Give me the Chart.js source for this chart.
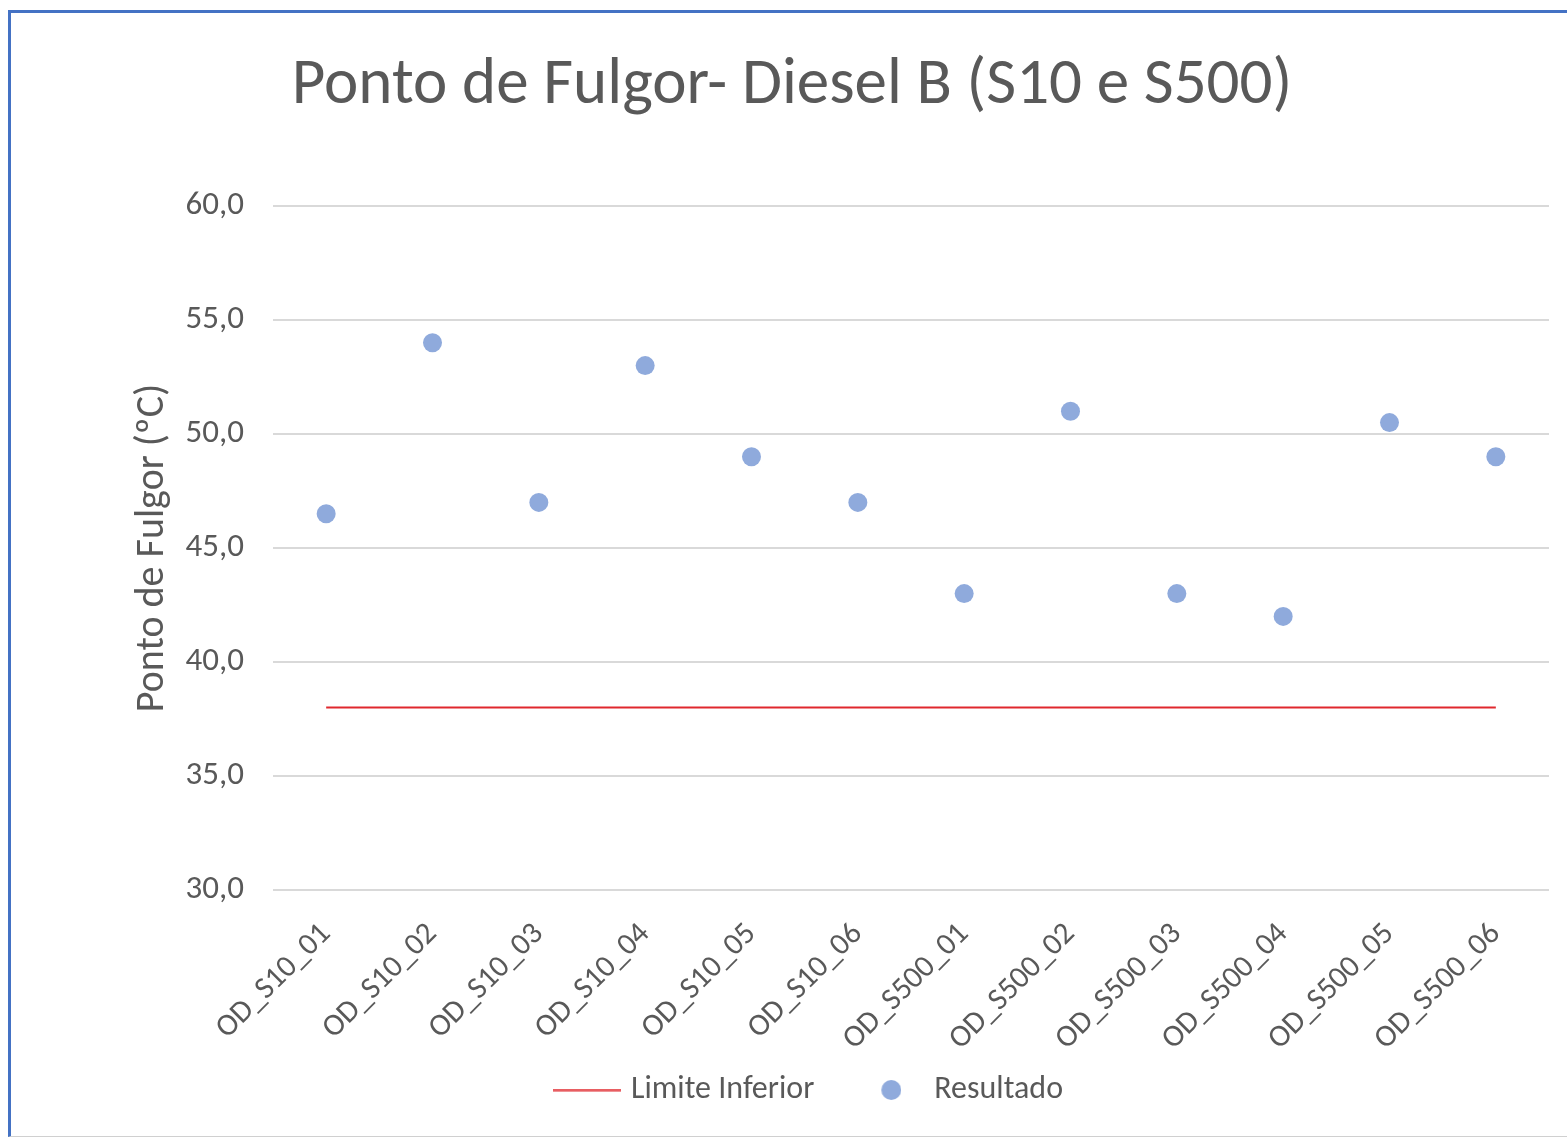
<!DOCTYPE html>
<html><head><meta charset="utf-8">
<script src="https://cdn.jsdelivr.net/npm/chart.js@4"></script>
<style>
html,body{margin:0;padding:0;background:#fff;overflow:hidden}
#wrap{position:absolute;left:8px;top:10px;width:1570px;height:1127px;border-top:3px solid #4472c4;border-left:3px solid #4472c4;border-bottom:1px solid #d0d0d0;box-sizing:border-box;background:#fff}
#c{position:absolute;left:0;top:0}
</style></head><body>
<div id="wrap"><canvas id="c" width="1556" height="1123"></canvas></div>
<script>
const categories = ["OD_S10_01","OD_S10_02","OD_S10_03","OD_S10_04","OD_S10_05","OD_S10_06","OD_S500_01","OD_S500_02","OD_S500_03","OD_S500_04","OD_S500_05","OD_S500_06"];
const resultado = [46.5, 54, 47, 53, 49, 47, 43, 51, 43, 42, 50.5, 49];
const limiteInferior = [38, 38, 38, 38, 38, 38, 38, 38, 38, 38, 38, 38];
const yTicks = [30, 35, 40, 45, 50, 55, 60];
const chartTitle = "Ponto de Fulgor- Diesel B (S10 e S500)";
const yTitle = "Ponto de Fulgor (ºC)";

const FONT = "Carlito, Lato, 'Open Sans', sans-serif";
const TXT = "#595959";
const RED = "#e0282e";
const BLUE = "#8faadc";

// legend icons (drawn centred on the legend box)
function lineIcon() {
  const c = document.createElement('canvas'); c.width = 106; c.height = 3;
  const x = c.getContext('2d'); x.fillStyle = RED; x.fillRect(38, 0.5, 68, 2); return c;
}
function dotIcon() {
  const c = document.createElement('canvas'); c.width = 60; c.height = 22;
  const x = c.getContext('2d'); x.fillStyle = BLUE; x.beginPath(); x.arc(50, 11, 10, 0, Math.PI * 2); x.fill(); return c;
}
const icons = [lineIcon(), dotIcon()];

new Chart(document.getElementById('c'), {
  type: 'line',
  data: {
    labels: categories,
    datasets: [
      {
        label: "Limite Inferior",
        data: limiteInferior,
        borderColor: RED,
        backgroundColor: RED,
        borderWidth: 2,
        pointRadius: 0,
        pointHoverRadius: 0,
        fill: false,
        tension: 0
      },
      {
        label: "Resultado",
        data: resultado,
        showLine: false,
        borderColor: BLUE,
        backgroundColor: BLUE,
        pointBackgroundColor: BLUE,
        pointBorderWidth: 0,
        borderWidth: 0,
        pointRadius: 9.5,
        pointStyle: 'circle'
      }
    ]
  },
  options: {
    responsive: false,
    devicePixelRatio: 1,
    animation: false,
    layout: { padding: { left: 24, right: 18, top: 0, bottom: 20 } },
    plugins: {
      title: {
        display: true,
        text: chartTitle,
        color: TXT,
        font: { family: FONT, size: 65, weight: 'normal', lineHeight: 1.2 },
        padding: { top: 35, bottom: 80 }
      },
      legend: {
        position: 'bottom',
        labels: {
          color: TXT,
          font: { family: FONT, size: 32 },
          usePointStyle: true,
          pointStyleWidth: 94,
          padding: 10,
          sort: (a, b) => a.datasetIndex - b.datasetIndex,
          generateLabels: (chart) => {
            const items = Chart.defaults.plugins.legend.labels.generateLabels(chart);
            items.forEach((it) => { it.pointStyle = icons[it.datasetIndex]; });
            return items;
          }
        }
      },
      tooltip: { enabled: false }
    },
    scales: {
      x: {
        offset: true,
        grid: { display: false, drawTicks: false },
        border: { display: false },
        ticks: { color: TXT, font: { family: FONT, size: 31 }, minRotation: 45, maxRotation: 45, autoSkip: false, padding: 26 },
        afterFit: (s) => { s.height = 174; }
      },
      y: {
        min: 30, max: 60,
        afterBuildTicks: (s) => { s.ticks = yTicks.map(v => ({ value: v })); },
        grid: { color: "#d9d9d9", lineWidth: 2, drawTicks: false },
        border: { display: false },
        ticks: { color: TXT, font: { family: FONT, size: 33 }, padding: 29,
          callback: (v) => Number(v).toFixed(1).replace('.', ',') },
        title: { display: true, text: yTitle, color: TXT, font: { family: FONT, size: 40 }, padding: { top: 94, bottom: 0 } },
        afterFit: (s) => { s.width = 238; }
      }
    }
  }
});
</script>
</body></html>
